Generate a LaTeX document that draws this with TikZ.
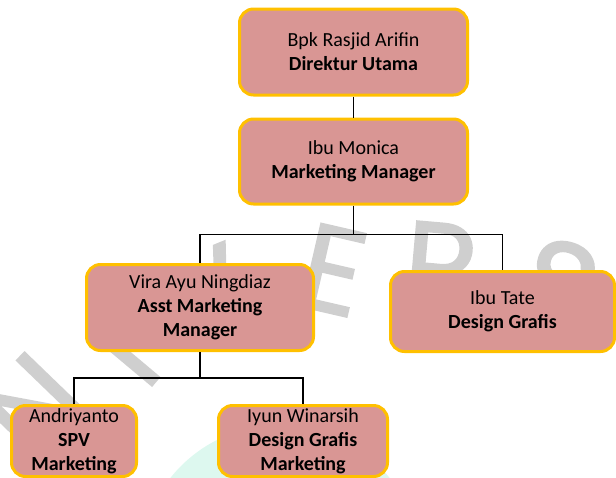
\documentclass[tikz,border=0pt]{standalone}
\usepackage{fontspec}
\setmainfont{Carlito}
\newfontfamily\wmfont[FakeBold=1.6]{Poppins}
\usepackage{xcolor}
\usetikzlibrary{positioning,calc}
\definecolor{boxfill}{HTML}{D99694}
\definecolor{boxline}{HTML}{FFC000}
\definecolor{wmgray}{HTML}{CFCFCF}
\definecolor{wmmint}{HTML}{DDF8EF}

\begin{document}
\begin{tikzpicture}[x=1pt,y=-1pt,
    box/.style={draw=boxline, fill=boxfill, line width=3pt, rounded corners=14pt,
        align=center, inner sep=0pt, font=\fontsize{20}{24}\selectfont},
    link/.style={draw=black, line width=1.2pt}]
    \useasboundingbox (0,0) rectangle (616,477);
    \clip (0,0) rectangle (616,477);
    % watermark behind the chart
    \fill[wmmint] (280,565) circle[radius=140pt];
    \foreach \ch/\px/\py/\rot in {N/32/406/46, I/123/354/50, V/205/295/22, E/333/270/-13, R/441/266/-5, S/560/285/-18}
        \node[text=wmgray, inner sep=0pt, rotate=\rot, font=\wmfont\fontsize{122}{122}\selectfont] (wm\ch) at (\px,\py) {\ch};

    \node[box, minimum width=228pt, minimum height=86pt] (dir) at (353.5,52) {Bpk Rasjid Arifin\\\textbf{Direktur Utama}};
    \node[box, minimum width=228pt, minimum height=85pt] (mgr) at (353.5,161.5) {Ibu Monica\\\textbf{Marketing Manager}};
    \node[box, minimum width=227pt, minimum height=86pt] (asst) at (200,307.5) {Vira Ayu Ningdiaz\\\textbf{Asst Marketing}\\\textbf{Manager}};
    \node[box, minimum width=224pt, minimum height=80pt] (tate) at (502.5,311.5) {Ibu Tate\\\textbf{Design Grafis}};
    \node[box, minimum width=125pt, minimum height=71pt] (spv) at (74,441) {Andriyanto\\\textbf{SPV}\\\textbf{Marketing}};
    \node[box, minimum width=169pt, minimum height=71pt] (dsg) at (303,441) {Iyun Winarsih\\\textbf{Design Grafis}\\\textbf{Marketing}};

    \draw[link] (dir) -- (mgr);
    \draw[link] (mgr.south) -- ++(0,29) coordinate (bus1);
    \draw[link] (asst.north) |- (bus1) -| (tate.north);
    \draw[link] (asst.south) -- ++(0,26) coordinate (bus2);
    \draw[link] (spv.north) |- (bus2) -| (dsg.north);
\end{tikzpicture}
\end{document}
